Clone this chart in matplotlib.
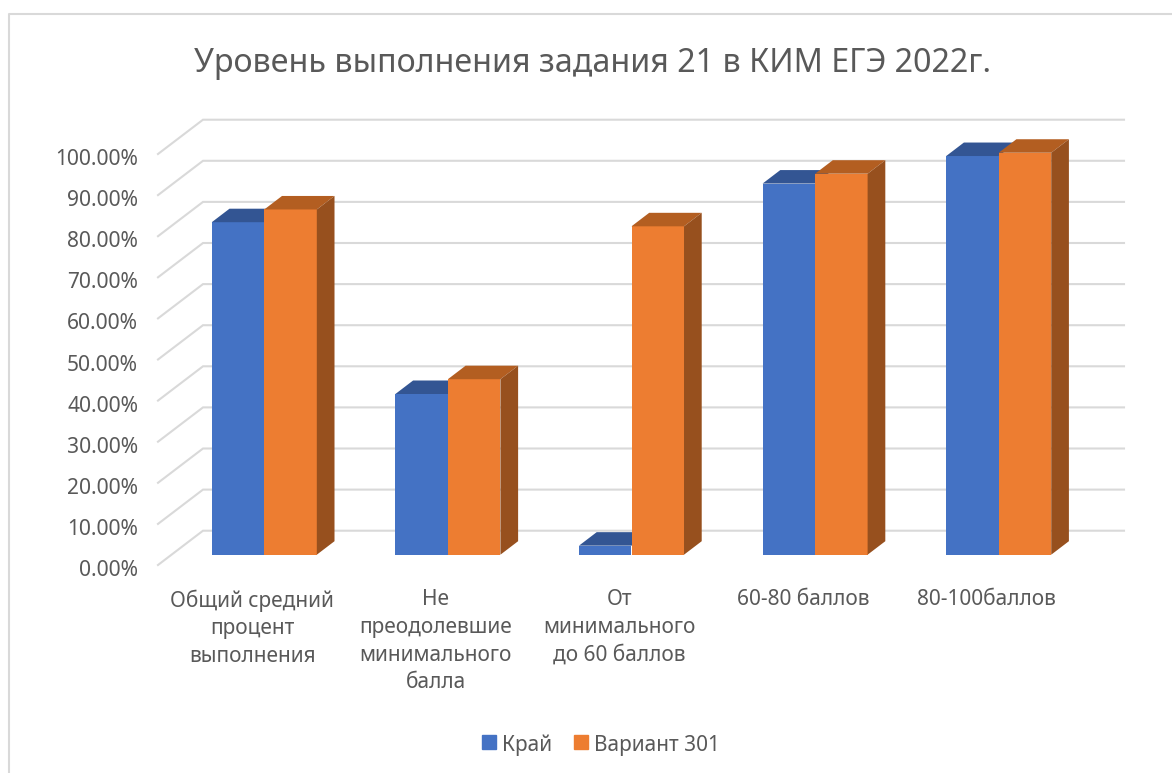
import matplotlib
matplotlib.use("Agg")
import matplotlib.pyplot as plt
from matplotlib.patches import Polygon, Rectangle

plt.rcParams['font.family'] = ['Noto Sans', 'DejaVu Sans']

categories = ['Общий средний\nпроцент\nвыполнения',
              'Не\nпреодолевшие\nминимального\nбалла',
              'От\nминимального\nдо 60 баллов',
              '60-80 баллов',
              '80-100баллов']
kray = [80.9, 39.1, 2.2, 90.3, 97.0]
variant = [84.0, 42.7, 79.9, 92.7, 97.8]
y_ticks = [0, 10, 20, 30, 40, 50, 60, 70, 80, 90, 100]

W, H = 1172, 773
# pixel scale of the plane the bars stand on
x0_px, cat_px = 172.5, 183.6
y0_px, pct_px = 554.7, 4.11


def dx(px):
    return px / cat_px


def dy(px):
    return px / pct_px


fig = plt.figure(figsize=(W / 100, H / 100), dpi=100)
ax = fig.add_axes([0, 0, 1, 1])
x_left, x_right = -x0_px / cat_px, (W - x0_px) / cat_px
y_bottom, y_top = (y0_px - H) / pct_px, y0_px / pct_px
ax.set_xlim(x_left, x_right)
ax.set_ylim(y_bottom, y_top)
ax.axis('off')

# chart frame, only left and top are inside the picture
ax.plot([x_left + dx(9), x_left + dx(9), x_right],
        [y_bottom, y_top - dy(14), y_top - dy(14)],
        color='#D9D9D9', lw=1.5, zorder=1)

# gridlines: front edge of the floor to the back wall
front_x, back_x = dx(-14.5), dx(30.5)
front_y, back_y = dy(-10.3), dy(24)
for v in y_ticks:
    ax.plot([front_x, back_x, 5 + back_x + dx(3)],
            [v + front_y, v + back_y, v + back_y],
            color='#D9D9D9', lw=1.5, zorder=1, solid_joinstyle='miter')
    ax.text(front_x - dx(20), v + front_y - dy(5.5), f'{v:.2f}%', ha='right', va='center',
            fontsize=15.1, color='#595959')

bar_w = 0.286
depth_x, depth_y = dx(17.7), dy(13.5)


def draw_bars(positions, values, color, top_color, side_color, z):
    ax.bar(positions, values, bar_w, align='edge', color=color, zorder=z)
    for x, v in zip(positions, values):
        ax.add_patch(Polygon([(x, v), (x + bar_w, v), (x + bar_w + depth_x, v + depth_y), (x + depth_x, v + depth_y)],
                             closed=True, facecolor=top_color, lw=0, zorder=z))
        if side_color:
            ax.add_patch(Polygon([(x + bar_w, 0), (x + bar_w + depth_x, depth_y), (x + bar_w + depth_x, v + depth_y), (x + bar_w, v)],
                                 closed=True, facecolor=side_color, lw=0, zorder=z))


centers = list(range(len(categories)))
# the blue side face is always hidden by the orange bar next to it
draw_bars([c + 0.5 - bar_w for c in centers], kray, '#4472C4', '#335593', None, 3)
draw_bars([c + 0.5 for c in centers], variant, '#ED7D31', '#B35E21', '#97501E', 4)

# category labels
for c, label in zip(centers, categories):
    ax.text(c + 0.5 - dx(12), -dy(34.5), label, ha='center', va='top',
            fontsize=15, color='#595959', linespacing=1.42)

fig.text(593 / W, 1 - 63.5 / H, 'Уровень выполнения задания 21 в КИМ ЕГЭ 2022г.',
         ha='center', va='center', fontsize=23.2, color='#595959')

# legend
fig.patches.append(Rectangle((482 / W, 1 - 749 / H), 14 / W, 14 / H, transform=fig.transFigure, color='#4472C4'))
fig.patches.append(Rectangle((574 / W, 1 - 749 / H), 14 / W, 14 / H, transform=fig.transFigure, color='#ED7D31'))
fig.text(502 / W, 1 - 745 / H, 'Край', ha='left', va='center', fontsize=15, color='#595959')
fig.text(594 / W, 1 - 745 / H, 'Вариант 301', ha='left', va='center', fontsize=15, color='#595959')

fig.savefig('out.png', dpi=100, facecolor='white')
